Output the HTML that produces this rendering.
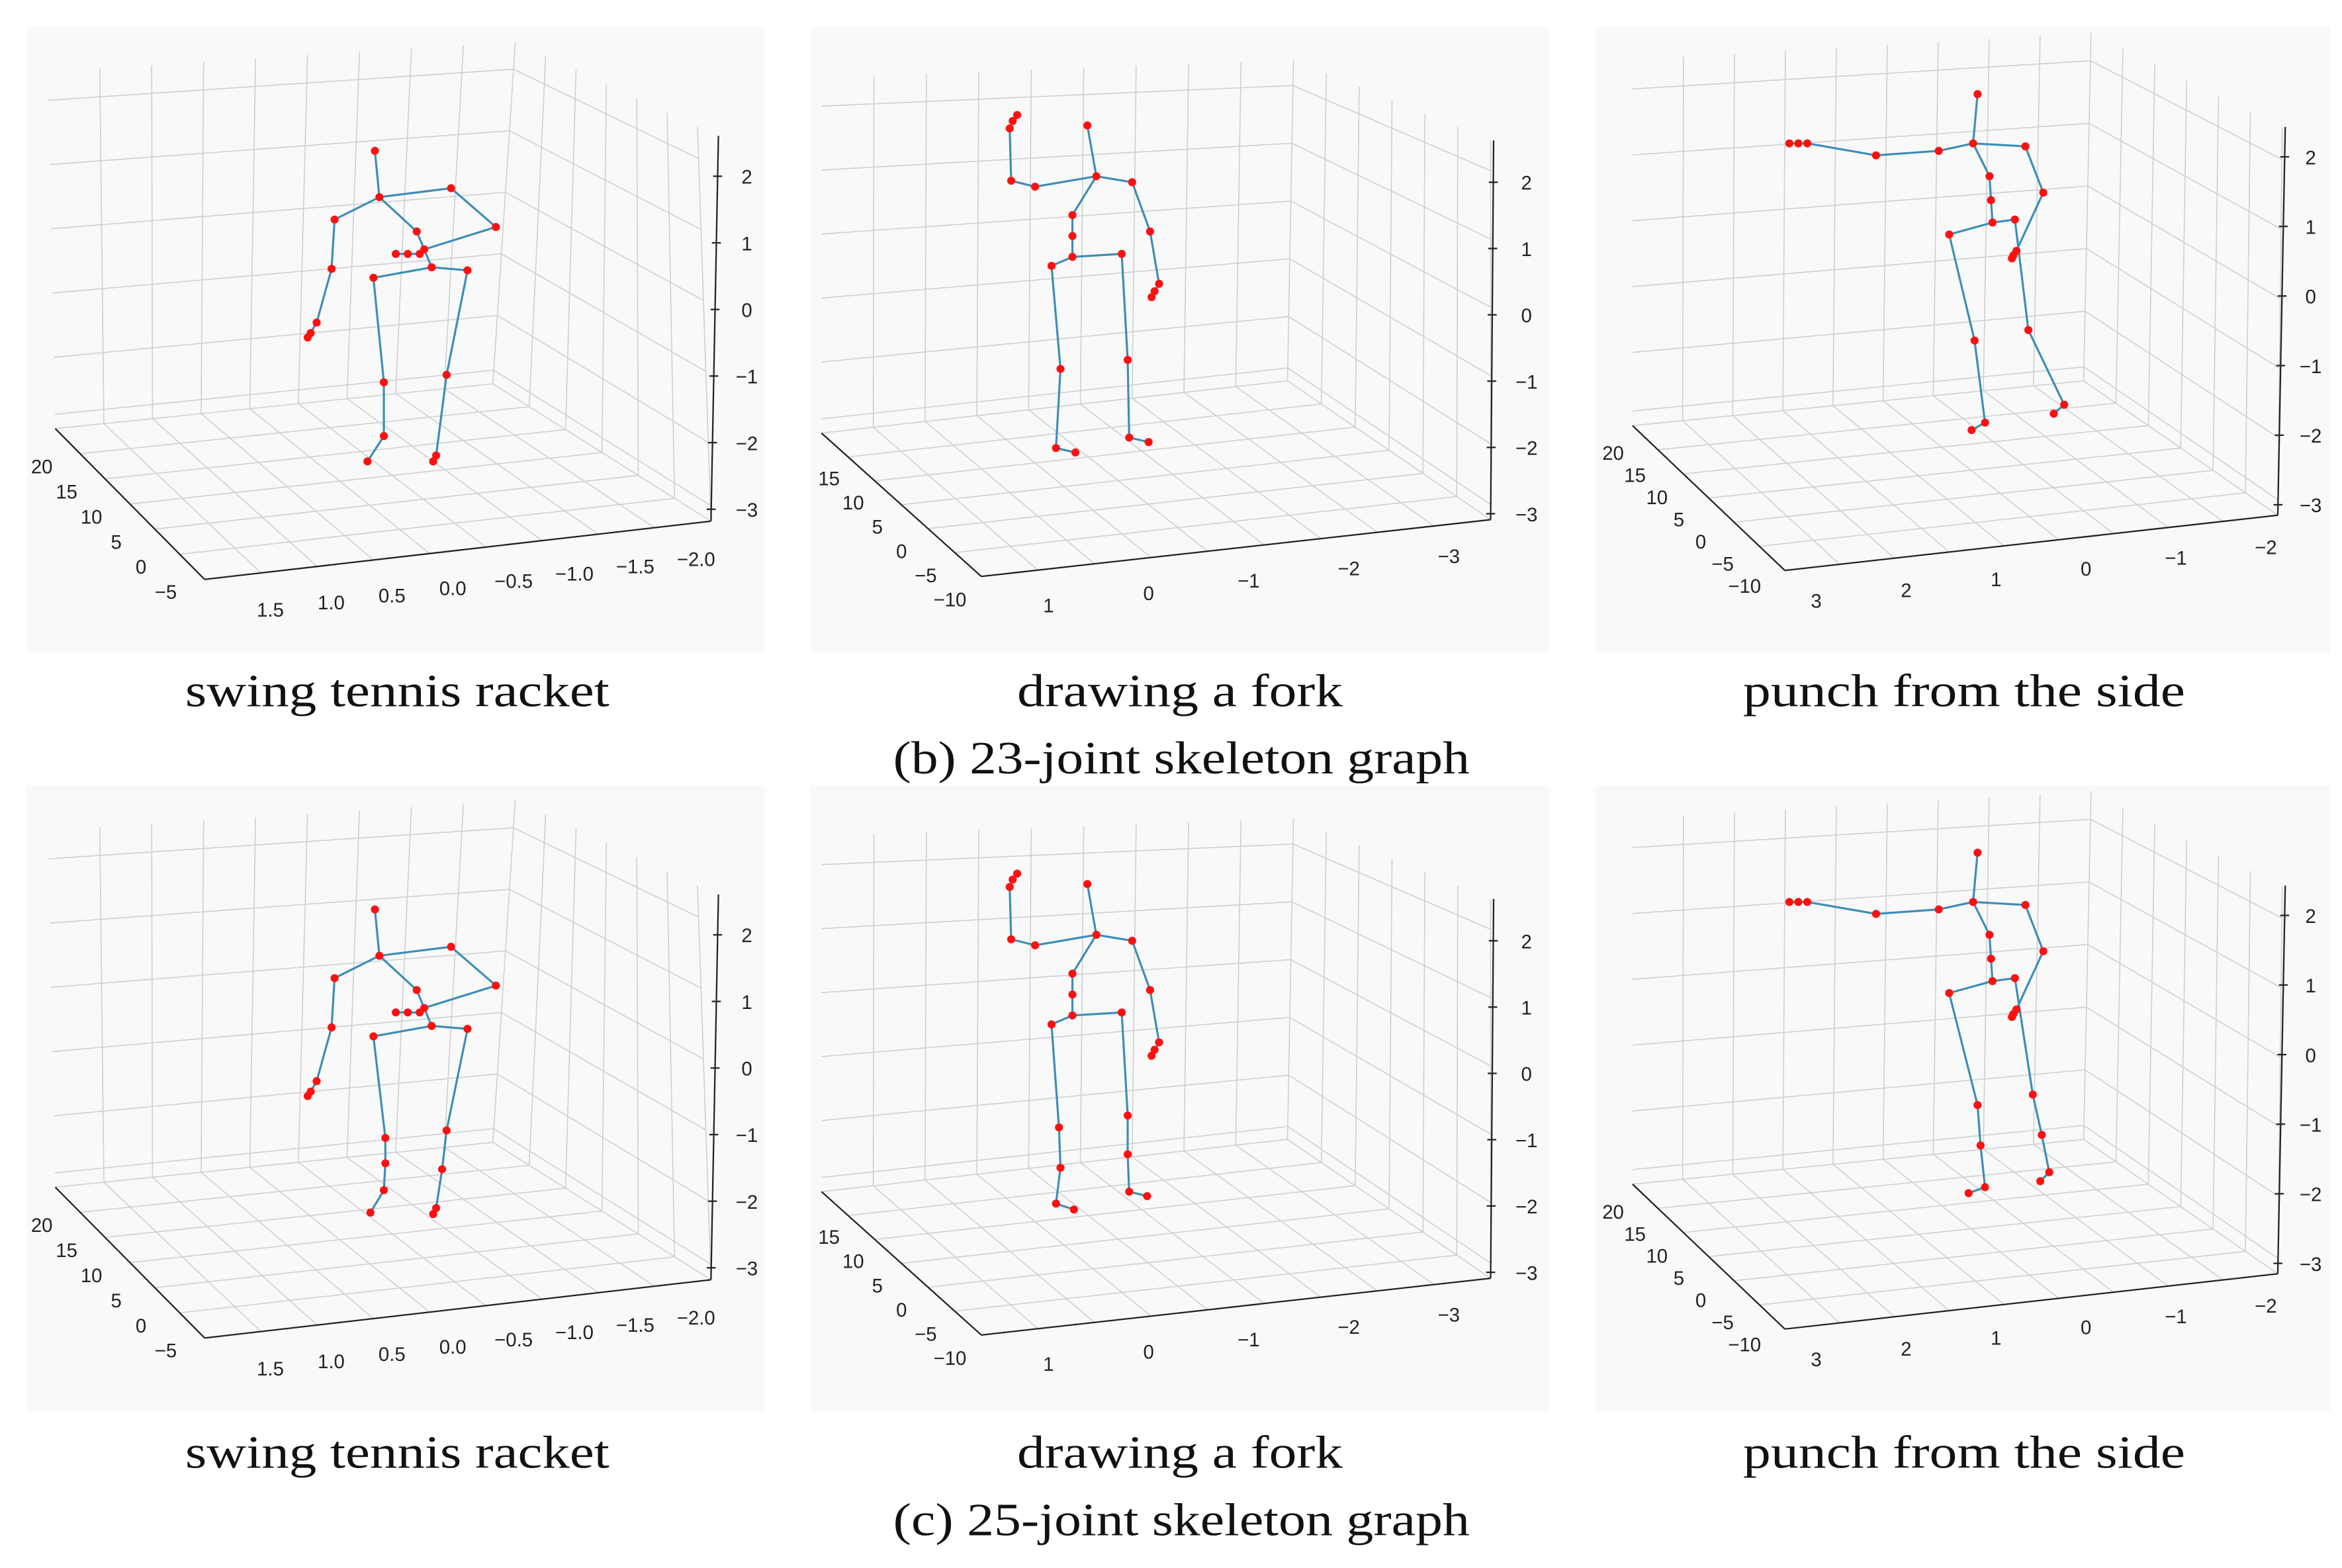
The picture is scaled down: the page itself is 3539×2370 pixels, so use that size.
<!DOCTYPE html>
<html><head><meta charset="utf-8">
<style>html,body{margin:0;padding:0;background:#fff}svg{display:block}</style>
</head><body>
<svg id="fig" xmlns="http://www.w3.org/2000/svg" width="3539" height="2370" viewBox="0 0 1568 1050">
<rect x="0" y="0" width="1568" height="1050" fill="#ffffff"/>
<g id="panels"></g>
<g font-family="'Liberation Serif', serif" font-size="31" fill="#111" text-anchor="middle">
<text x="266" y="473" textLength="284" lengthAdjust="spacingAndGlyphs">swing tennis racket</text>
<text x="790" y="473" textLength="218" lengthAdjust="spacingAndGlyphs">drawing a fork</text>
<text x="1315" y="473" textLength="296" lengthAdjust="spacingAndGlyphs">punch from the side</text>
<text x="791" y="518" textLength="386" lengthAdjust="spacingAndGlyphs">(b) 23-joint skeleton graph</text>
<text x="266" y="983" textLength="284" lengthAdjust="spacingAndGlyphs">swing tennis racket</text>
<text x="790" y="983" textLength="218" lengthAdjust="spacingAndGlyphs">drawing a fork</text>
<text x="1315" y="983" textLength="296" lengthAdjust="spacingAndGlyphs">punch from the side</text>
<text x="791" y="1028" textLength="386" lengthAdjust="spacingAndGlyphs">(c) 25-joint skeleton graph</text>
</g>
</svg>
<script>
// ---- tick labels ----
const leftTicks1 = ["20","15","10","5","0","\u22125"];
const bottomTicks1 = ["1.5","1.0","0.5","0.0","\u22120.5","\u22121.0","\u22121.5","\u22122.0"];
const leftTicks2 = ["15","10","5","0","\u22125","\u221210"];
const bottomTicks2 = ["1","0","\u22121","\u22122","\u22123"];
const leftTicks3 = ["20","15","10","5","0","\u22125","\u221210"];
const bottomTicks3 = ["3","2","1","0","\u22121","\u22122"];
const zTicks = ["2","1","0","\u22121","\u22122","\u22123"];

// ---- skeleton joints (screen units of top-row panels) ----
const s1X = [251,254,224,222,212,208,206,302,332,284,281,273,265,279,289,250,313,257,299,257,246,292,290];
const s1Y = [101,132,147,180,216,223,226,126,152,167,170,170,170,155,179,186,181,256,251,292,309,305,309];
const s2X = [728,734,693,677,676,678,681,758,770,776,773,771,718,718,718,704,751,710,755,707,720,756,769];
const s2Y = [84,118,125,121,86,81,77,122,155,190,195,199,144,158,172,178,170,247,241,300,303,293,296];
const s3X = [1324,1321,1298,1256,1210,1204,1198,1356,1368,1350,1348,1347,1332,1333,1334,1305,1349,1322,1358,1329,1320,1382,1375];
const s3Y = [63,96,101,104,96,96,96,98,129,168,171,173,118,134,149,157,147,228,221,283,288,271,277];
const edges1 = [[0,1],[1,2],[2,3],[3,4],[4,5],[5,6],[1,7],[7,8],[8,9],[9,10],[10,11],[11,12],[1,13],[13,14],[14,15],[14,16],[15,17],[17,19],[19,20],[16,18],[18,21],[21,22]];
const edges23 = [[0,1],[1,2],[2,3],[3,4],[4,5],[5,6],[1,7],[7,8],[8,9],[9,10],[10,11],[1,12],[12,13],[13,14],[14,15],[14,16],[15,17],[17,19],[19,20],[16,18],[18,21],[21,22]];
// 25-joint legs (absolute screen units, bottom row)
const l1X = [258,258,257,248,299,296,292,290];
const l1Y = [762,779,797,812,757,783,809,813];
const l2X = [709,710,707,719,755,755,756,768];
const l2Y = [755,782,806,810,747,773,798,801];
const l3X = [1324,1326,1329,1318,1361,1367,1372,1366];
const l3Y = [740,767,795,799,733,760,785,791];

const NS = "http://www.w3.org/2000/svg";
const root = document.getElementById('panels');
function mk(tag, attrs, parent){const e=document.createElementNS(NS,tag);for(const k in attrs)e.setAttribute(k,attrs[k]);parent.appendChild(e);return e;}
function L(a,b,t){return [a[0]+(b[0]-a[0])*t,a[1]+(b[1]-a[1])*t];}

const boxes = [
 {x0:18,x1:512,BLt:[32,48],BLb:[37,287],Ct:[345,28],Cb:[330,257],Rt:[467,85],Rb:[476,349],F:[137,388],zt:[481,91],
  left:leftTicks1,lA:[28,312],lB:[111,396],bot:bottomTicks1,bA:[181,408],bB:[466,374],zx:500,zA:118,zB:341},
 {x0:543,x1:1037,BLt:[550,52],BLb:[550,290],Ct:[866,40],Cb:[862,255],Rt:[998,94],Rb:[998,348],F:[657,386],zt:[1000,94],
  left:leftTicks2,lA:[555,320],lB:[636,401],bot:bottomTicks2,bA:[702,405],bB:[970,372],zx:1022,zA:122,zB:344},
 {x0:1068,x1:1560,BLt:[1093,40],BLb:[1093,285],Ct:[1400,22],Cb:[1395,255],Rt:[1528,86],Rb:[1525,345],F:[1195,382],zt:[1530,85],
  left:leftTicks3,lA:[1080,303],lB:[1168,392],bot:bottomTicks3,bA:[1216,402],bB:[1517,366],zx:1547,zA:105,zB:338}
];
const zFrac=[0.08,0.26,0.44,0.62,0.8,0.96];

function drawPanel(b, dy, sx, sy, edges, idx){
  const g=mk('g',{transform:'translate(0,'+dy+')'},root);
  
  
  const bg=mk('rect',{x:b.x0,y:18,width:b.x1-b.x0,height:419,fill:'#f9f9f9'},g);
  
  
  const grid=mk('g',{stroke:'#cfcfcf','stroke-width':0.7,fill:'none'},g);
  
  
  function ln(p,q,par){return mk('line',{x1:p[0],y1:p[1],x2:q[0],y2:q[1]},par);}
  for(let i=1;i<=9;i++){const u=i/9;ln(L(b.BLt,b.Ct,u),L(b.BLb,b.Cb,u),grid);ln(L(b.BLb,b.Cb,u),L(b.F,b.Rb,u),grid);}
  for(let j=1;j<=6;j++){const w=j/6;ln(L(b.Ct,b.Rt,w),L(b.Cb,b.Rb,w),grid);ln(L(b.Cb,b.Rb,w),L(b.BLb,b.F,w),grid);}
  zFrac.forEach(v=>{const a=L(b.BLt,b.BLb,v),c=L(b.Ct,b.Cb,v),r=L(b.Rt,b.Rb,v);ln(a,c,grid);ln(c,r,grid);});
  ln(b.BLb,b.Cb,grid);
  const ax=mk('g',{stroke:'#222','stroke-width':1},g);
  
  
  ln(b.F,b.BLb,ax);ln(b.F,b.Rb,ax);ln(b.zt,b.Rb,ax);
  const tx=mk('g',{'font-family':"'Liberation Sans', sans-serif",'font-size':13,fill:'#222','text-anchor':'middle'},g);
  
  
  b.left.forEach((s,i)=>{const p=L(b.lA,b.lB,i/(b.left.length-1));const t=mk('text',{x:p[0],y:p[1]+5},tx);t.textContent=s;
    
    });
  b.bot.forEach((s,i)=>{const p=L(b.bA,b.bB,i/(b.bot.length-1));const t=mk('text',{x:p[0],y:p[1]+5},tx);t.textContent=s;
    
    });
  zTicks.forEach((s,i)=>{const y=b.zA+(b.zB-b.zA)*i/(zTicks.length-1);const t=mk('text',{x:b.zx,y:y+5},tx);t.textContent=s;
    
    
    const xz=b.zt[0]+(b.Rb[0]-b.zt[0])*((y-b.zt[1])/(b.Rb[1]-b.zt[1]));
    mk('line',{x1:xz-3,y1:y,x2:xz+3,y2:y},ax);});
  // skeleton (coordinates already absolute for this row)
  const sk=mk('g',{},root);
  
  
  edges.forEach(e=>{const l=mk('line',{x1:sx[e[0]],y1:sy[e[0]],x2:sx[e[1]],y2:sy[e[1]],stroke:'#3d8db5','stroke-width':1.4},sk);
    
    });
  sx.forEach((x,i)=>{const c=mk('circle',{cx:x,cy:sy[i],r:2.7,fill:'#ff1010'},sk);
    
    });
}
const tops=[[s1X,s1Y,edges1],[s2X,s2Y,edges23],[s3X,s3Y,edges23]];
const legsB=[[l1X,l1Y],[l2X,l2Y],[l3X,l3Y]];
const DY=508;
boxes.forEach((b,i)=>{drawPanel(b,0,tops[i][0],tops[i][1],tops[i][2],'top-'+(i+1));});
boxes.forEach((b,i)=>{
  const ux=tops[i][0].slice(0,17), uy=tops[i][1].slice(0,17).map(v=>v+DY);
  const sx=ux.concat(legsB[i][0]), sy=uy.concat(legsB[i][1]);
  const base=tops[i][2].filter(e=>e[0]<15&&e[1]<17&&!(e[0]>=15));
  const ed=base.concat([[15,17],[17,18],[18,19],[19,20],[16,21],[21,22],[22,23],[23,24]]);
  drawPanel(b,DY,sx,sy,ed,'bottom-'+(i+1));
});
</script>
</body></html>
